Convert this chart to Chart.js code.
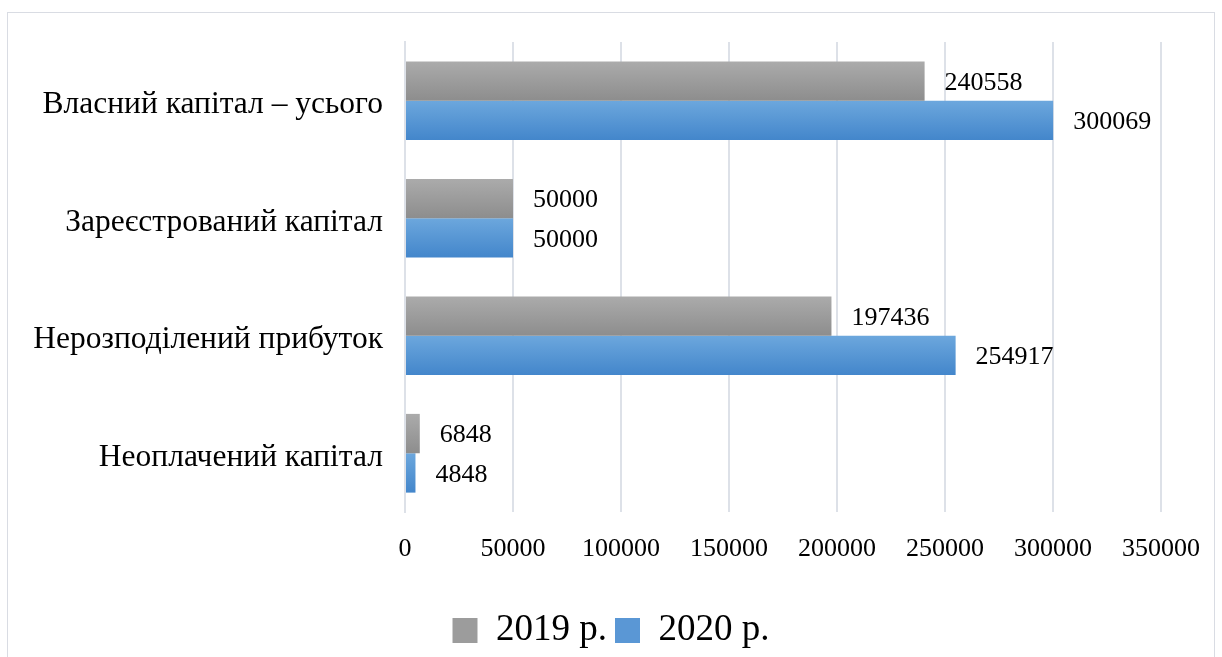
<!DOCTYPE html>
<html>
<head>
<meta charset="utf-8">
<script src="https://cdn.jsdelivr.net/npm/chart.js@4/dist/chart.umd.min.js"></script>
<style>
  html, body { margin: 0; padding: 0; background: #fff; overflow: hidden; }
  #wrap { position: relative; width: 1222px; height: 657px; }
  #frame { position: absolute; left: 7px; top: 12px; width: 1208px; height: 660px; border: 1px solid #d9dce3; box-sizing: border-box; }
  #myChart { position: absolute; left: 0; top: 0; }
</style>
</head>
<body>
<div id="wrap">
  <div id="frame"></div>
  <canvas id="myChart" width="1222" height="657"></canvas>
</div>
<script>
const categories = ['Власний капітал – усього', 'Зареєстрований капітал', 'Нерозподілений прибуток', 'Неоплачений капітал'];
const values2019 = [240558, 50000, 197436, 6848];
const values2020 = [300069, 50000, 254917, 4848];
const tickValues = [0, 50000, 100000, 150000, 200000, 250000, 300000, 350000];
const seriesNames = ['2019 р.', '2020 р.'];

const serif = '"Liberation Serif", "Times New Roman", serif';
const catPct = 0.67;

// vertical gradient across each bar's thickness
const barGradient = (top, bottom) => (context) => {
  const chart = context.chart;
  const yScale = chart.scales.y;
  if (!yScale || context.dataIndex === undefined) return bottom;
  const band = (yScale.bottom - yScale.top) / categories.length;
  const thick = band * catPct / 2;
  const center = yScale.getPixelForValue(context.dataIndex);
  const y0 = context.datasetIndex === 0 ? center - thick : center;
  const g = chart.ctx.createLinearGradient(0, y0, 0, y0 + thick);
  g.addColorStop(0, top);
  g.addColorStop(1, bottom);
  return g;
};

const valueLabels = {
  id: 'valueLabels',
  afterDatasetsDraw(chart) {
    const c = chart.ctx;
    c.save();
    c.font = '26px ' + serif;
    c.fillStyle = '#000';
    c.textAlign = 'left';
    c.textBaseline = 'middle';
    chart.data.datasets.forEach((ds, i) => {
      chart.getDatasetMeta(i).data.forEach((bar, j) => {
        c.fillText(String(ds.data[j]), bar.x + 20, bar.y + 2);
      });
    });
    c.restore();
  }
};

// legend centred on the whole canvas, nudged a little lower
const legendPlacement = {
  id: 'legendPlacement',
  afterLayout(chart) {
    const lg = chart.legend;
    lg.left = 0;
    lg.right = chart.width;
    lg.top += 6;
    lg.bottom += 6;
  }
};

const ctx = document.getElementById('myChart');
const myChart = new Chart(ctx, {
  type: 'bar',
  data: {
    labels: categories,
    datasets: [
      {
        label: seriesNames[0],
        data: values2019,
        backgroundColor: barGradient('#ababab', '#8d8d8d'),
        legendColor: '#9c9c9c',
        borderWidth: 0
      },
      {
        label: seriesNames[1],
        data: values2020,
        backgroundColor: barGradient('#6ca7dd', '#4386cb'),
        legendColor: '#5a97d5',
        borderWidth: 0
      }
    ]
  },
  options: {
    indexAxis: 'y',
    responsive: false,
    animation: false,
    categoryPercentage: catPct,
    barPercentage: 1,
    layout: { padding: { top: 42, right: 57, bottom: 4, left: 0 } },
    scales: {
      x: {
        min: 0,
        max: 350000,
        afterBuildTicks: (scale) => { scale.ticks = tickValues.map(v => ({ value: v })); },
        afterFit: (scale) => { scale.height = 86; },
        grid: { color: '#dde1e8', lineWidth: 2, drawTicks: false },
        border: { display: false },
        ticks: {
          color: '#000',
          font: { family: serif, size: 26 },
          padding: 22,
          maxRotation: 0,
          callback: (v) => String(v)
        }
      },
      y: {
        afterFit: (scale) => { scale.width = 405; },
        grid: { display: false },
        border: { display: true, color: '#dde1e8', width: 2 },
        ticks: { color: '#000', font: { family: serif, size: 31.5 }, padding: 14, labelOffset: 4 }
      }
    },
    plugins: {
      tooltip: { enabled: false },
      legend: {
        position: 'bottom',
        labels: {
          color: '#000',
          font: { family: serif, size: 37 },
          boxWidth: 25,
          boxHeight: 25,
          padding: 8,
          generateLabels: (chart) => chart.data.datasets.map((ds, i) => ({
            text: ds.label,
            fillStyle: ds.legendColor,
            strokeStyle: ds.legendColor,
            lineWidth: 0,
            datasetIndex: i
          }))
        }
      }
    }
  },
  plugins: [valueLabels, legendPlacement]
});
</script>
</body>
</html>
